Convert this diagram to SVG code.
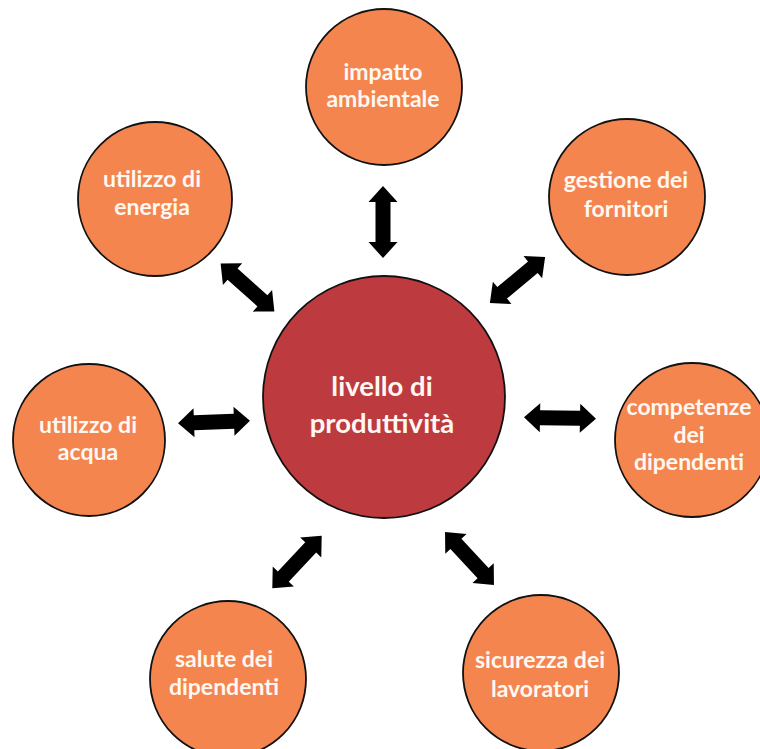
<svg xmlns="http://www.w3.org/2000/svg" xmlns:xlink="http://www.w3.org/1999/xlink" width="760" height="749" viewBox="0 0 760 749">
<style>
.outer{fill:#F4854E;stroke:#111;stroke-width:1.8}
.core{fill:#BD3A3F;stroke:#111;stroke-width:1.8}
.lbl{font-family:Lato,"Open Sans","Liberation Sans",sans-serif;font-weight:bold;font-size:23px;fill:#FFF8F2;text-anchor:middle}
.big{font-size:27.5px}
.arr{fill:#000}
</style>
<defs>
<path id="dbl" d="M-36,0 L-20,-14.5 L-20,-7.5 L20,-7.5 L20,-14.5 L36,0 L20,14.5 L20,7.5 L-20,7.5 L-20,14.5 Z"/>
</defs>
<rect width="760" height="749" fill="#fff"/>
<g id="connectors" class="arr">
<use xlink:href="#dbl" href="#dbl" transform="translate(383,222) rotate(90)"/>
<use xlink:href="#dbl" href="#dbl" transform="translate(247.5,287.5) rotate(41.7)"/>
<use xlink:href="#dbl" href="#dbl" transform="translate(517.5,280) rotate(-39.9)"/>
<use xlink:href="#dbl" href="#dbl" transform="translate(214,422) rotate(-2)"/>
<use xlink:href="#dbl" href="#dbl" transform="translate(560,418) rotate(1)"/>
<use xlink:href="#dbl" href="#dbl" transform="translate(297,562) rotate(-46.7)"/>
<use xlink:href="#dbl" href="#dbl" transform="translate(469.5,558.5) rotate(47.2)"/>
</g>
<g id="center">
<circle class="core" cx="384" cy="397" r="121"/>
<text class="lbl big" x="382" y="396">livello di</text>
<text class="lbl big" x="382" y="433">produttività</text>
</g>
<g id="impatto">
<circle class="outer" cx="384" cy="87" r="78"/>
<text class="lbl" x="383" y="80">impatto</text>
<text class="lbl" x="383" y="107">ambientale</text>
</g>
<g id="energia">
<circle class="outer" cx="155" cy="199" r="77"/>
<text class="lbl" x="152" y="187">utilizzo di</text>
<text class="lbl" x="152" y="215">energia</text>
</g>
<g id="fornitori">
<circle class="outer" cx="627" cy="197" r="78"/>
<text class="lbl" x="626" y="188">gestione dei</text>
<text class="lbl" x="626" y="217">fornitori</text>
</g>
<g id="acqua">
<circle class="outer" cx="89" cy="440" r="76"/>
<text class="lbl" x="88" y="433">utilizzo di</text>
<text class="lbl" x="88" y="460">acqua</text>
</g>
<g id="competenze">
<circle class="outer" cx="692" cy="440" r="77"/>
<text class="lbl" x="689" y="415">competenze</text>
<text class="lbl" x="689" y="443">dei</text>
<text class="lbl" x="689" y="470">dipendenti</text>
</g>
<g id="salute">
<circle class="outer" cx="228" cy="679" r="78"/>
<text class="lbl" x="224" y="667">salute dei</text>
<text class="lbl" x="224" y="695">dipendenti</text>
</g>
<g id="sicurezza">
<circle class="outer" cx="541" cy="673" r="78"/>
<text class="lbl" x="540" y="668">sicurezza dei</text>
<text class="lbl" x="540" y="697">lavoratori</text>
</g>
</svg>
